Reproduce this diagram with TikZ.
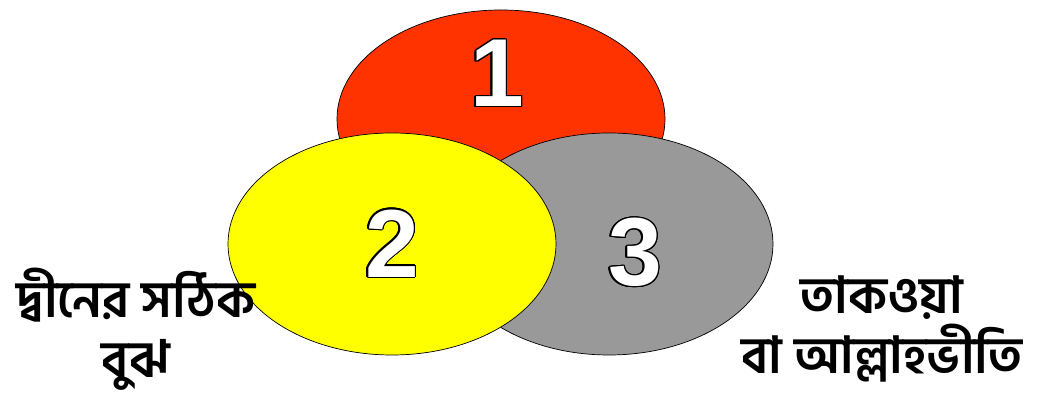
\documentclass[tikz,border=0pt]{standalone}
\usepackage{fontspec}
\setmainfont{Liberation Sans}
\newfontfamily\bnfont[Script=Bengali]{Hind Siliguri}
\usepackage{contour}
\contourlength{0.7pt}
\usetikzlibrary{positioning}
\definecolor{topred}{HTML}{FF3300}
\definecolor{leftyellow}{HTML}{FFFF00}
\definecolor{rightgray}{HTML}{999999}

\begin{document}
\begin{tikzpicture}[x=0.02cm, y=-0.02cm,
  digit/.style={text=white, font=\fontsize{55}{55}\selectfont\bfseries},
  sidetext/.style={font=\bnfont\fontsize{29}{34}\selectfont\bfseries, align=center, inner sep=1pt}]
  \useasboundingbox (0,0) rectangle (1042,404);

  % The three ellipses
  \filldraw[fill=topred, draw=black, thin] (501,119) ellipse [x radius=164, y radius=109];
  \filldraw[fill=rightgray, draw=black, thin] (609,244) ellipse [x radius=164, y radius=111];
  \filldraw[fill=leftyellow, draw=black, thin] (392,244) ellipse [x radius=164, y radius=111];

  % The numbers
  \node[digit] (one) at (497,74) {\contour{black}{1}};
  \node[digit] (two) at (392,244) {\contour{black}{2}};
  \node[digit] (three) at (635,253) {\contour{black}{3}};

  % The texts beside
  \node[sidetext] (left) at (136,329) {দ্বীনের সঠিক\\বুঝ};
  \node[sidetext] (right) at (882,329) {তাকওয়া\\বা আল্লাহভীতি};
\end{tikzpicture}
\end{document}
